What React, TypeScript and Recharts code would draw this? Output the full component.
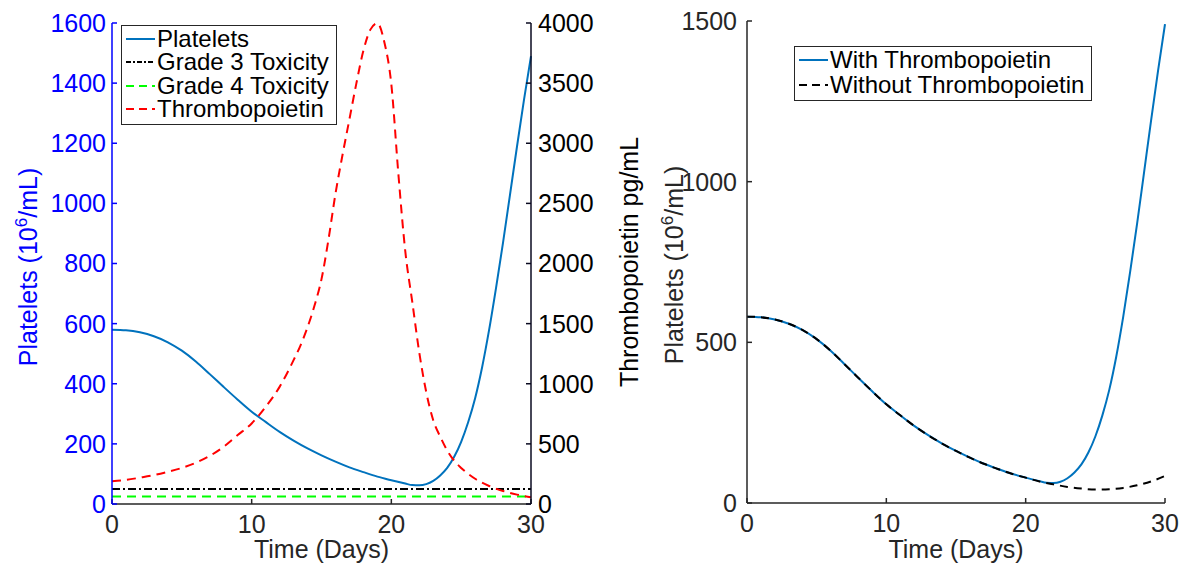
import React from 'react';
import { LineChart, Line, XAxis, YAxis } from 'recharts';

const FONT = '"Liberation Sans", Arial, Helvetica, sans-serif';
const AXIS = '#262626';
const BLUE = '#0072BD';

// tick labels
const dayTicks = [0, 10, 20, 30];
const plateletTicks = [0, 200, 400, 600, 800, 1000, 1200, 1400, 1600];
const tpoTicks = [0, 500, 1000, 1500, 2000, 2500, 3000, 3500, 4000];
const compareTicks = [0, 500, 1000, 1500];

// platelets with thrombopoietin (10^6/mL)
const plateletDays = [0, 1, 2, 3, 4, 5, 6, 7, 8, 9, 10, 11, 12, 13, 14, 15, 16, 17, 18, 19, 20, 21, 21.5, 22, 22.5, 23, 23.5, 24, 24.5, 25, 25.5, 26, 26.5, 27, 27.5, 28, 28.5, 29, 29.5, 30];
const plateletValues = [580, 578, 571, 558, 538, 510, 474, 432, 389, 347, 307, 273, 240, 211, 185, 162, 141, 122, 106, 91, 79, 68, 63, 62, 66, 77, 95, 120, 157, 207, 272, 352, 455, 579, 720, 870, 1030, 1190, 1345, 1490];

// platelets without thrombopoietin
const noTpoDays = [0, 1, 2, 3, 4, 5, 6, 7, 8, 9, 10, 11, 12, 13, 14, 15, 16, 17, 18, 19, 20, 21, 22, 23, 24, 25, 26, 27, 28, 29, 30];
const noTpoValues = [580, 578, 571, 558, 538, 510, 474, 432, 389, 347, 307, 273, 240, 211, 185, 162, 141, 122, 106, 91, 79, 67, 58, 50, 45, 42, 43, 47, 55, 67, 84];

// thrombopoietin (pg/mL)
const tpoDays = [0, 1, 2, 3, 4, 5, 6, 7, 8, 9, 10, 11, 12, 13, 13.5, 14, 14.5, 15, 15.5, 16, 16.5, 17, 17.5, 18, 18.5, 19, 19.5, 20, 20.5, 21, 21.5, 22, 22.5, 23, 23.5, 24, 24.5, 25, 26, 27, 28, 29, 30];
const tpoValues = [190, 200, 219, 240, 268, 300, 343, 400, 476, 573, 670, 808, 974, 1196, 1320, 1470, 1650, 1870, 2200, 2580, 2900, 3200, 3500, 3770, 3945, 3998, 3840, 3490, 2750, 2100, 1680, 1260, 930, 697, 560, 445, 360, 300, 210, 150, 108, 78, 55];

// toxicity thresholds
const toxDays = [0, 30];
const grade3Values = [50, 50];
const grade4Values = [25, 25];

const toPoints = (days: number[], vals: number[]) => days.map((t, i) => ({ t, v: vals[i] }));

const platelets = toPoints(plateletDays, plateletValues);
const noTpo = toPoints(noTpoDays, noTpoValues);
const tpo = toPoints(tpoDays, tpoValues);
const grade3 = toPoints(toxDays, grade3Values);
const grade4 = toPoints(toxDays, grade4Values);

function VTitle({ px, py, color, sup }: { px: number; py: number; color: string; sup?: boolean }) {
  return (
    <text x={px} y={py} transform={`rotate(-90 ${px} ${py})`} textAnchor="middle" fill={color} fontSize={25} fontFamily={FONT}>
      {sup ? (
        <>
          <tspan>Platelets (10</tspan>
          <tspan dy={-10} fontSize={17}>6</tspan>
          <tspan dy={10}>/mL)</tspan>
        </>
      ) : (
        'Thrombopoietin pg/mL'
      )}
    </text>
  );
}

function HTitle({ px, py }: { px: number; py: number }) {
  return (
    <text x={px} y={py} textAnchor="middle" fill={AXIS} fontSize={25} fontFamily={FONT}>
      Time (Days)
    </text>
  );
}

function Sample({ color, dash }: { color: string; dash?: string }) {
  return (
    <svg width={29} height={10} style={{ display: 'block', flex: 'none' }}>
      <line x1={0} y1={5} x2={29} y2={5} stroke={color} strokeWidth={2} strokeDasharray={dash} />
    </svg>
  );
}

function LegendRow({ top, color, dash, label }: { top: number; color: string; dash?: string; label: string }) {
  return (
    <div style={{ position: 'absolute', left: 4, top, height: 24, display: 'flex', alignItems: 'center', gap: 2, whiteSpace: 'nowrap' }}>
      <Sample color={color} dash={dash} />
      <span style={{ lineHeight: '24px' }}>{label}</span>
    </div>
  );
}

const tickStyle = { fill: AXIS, fontSize: 25, fontFamily: FONT };
const lineStyle = { stroke: AXIS, strokeWidth: 1.5 };

export default function App() {
  return (
    <div style={{ position: 'absolute', left: 0, top: 0, width: 1187, height: 569, background: '#fff', fontFamily: FONT, color: '#000' }}>
      {/* left panel: platelets + thrombopoietin */}
      <LineChart width={660} height={569} margin={{ top: 23, right: 20, bottom: 0, left: 0 }} style={{ position: 'absolute', left: 0, top: 0 }}>
        <XAxis xAxisId="b" type="number" dataKey="t" domain={[0, 30]} ticks={dayTicks} interval={0} height={65}
          tick={tickStyle} tickSize={-5} tickMargin={16} axisLine={lineStyle} tickLine={lineStyle}
          label={<HTitle px={321.5} py={558} />} />
        <XAxis xAxisId="top" orientation="top" type="number" dataKey="t" domain={[0, 30]} ticks={dayTicks} interval={0} height={0}
          tick={false} tickSize={-5} axisLine={lineStyle} tickLine={lineStyle} />
        <YAxis yAxisId="p" type="number" domain={[0, 1600]} ticks={plateletTicks} interval={0} width={112}
          tick={{ ...tickStyle, fill: '#0000FF' }} tickSize={-5} tickMargin={11}
          axisLine={{ stroke: '#0000FF', strokeWidth: 1.5 }} tickLine={{ stroke: '#0000FF', strokeWidth: 1.5 }}
          label={<VTitle px={37} py={267} color="#0000FF" sup />} />
        <YAxis yAxisId="tpo" orientation="right" type="number" domain={[0, 4000]} ticks={tpoTicks} interval={0} width={109}
          tick={{ ...tickStyle, fill: '#000' }} tickSize={-5} tickMargin={12}
          axisLine={{ stroke: '#0a0a20', strokeWidth: 1.5 }} tickLine={{ stroke: '#0a0a20', strokeWidth: 1.5 }}
          label={<VTitle px={638} py={262} color="#000" />} />
        <Line xAxisId="b" yAxisId="p" data={platelets} dataKey="v" type="monotone" stroke={BLUE} strokeWidth={2} dot={false} isAnimationActive={false} />
        <Line xAxisId="b" yAxisId="p" data={grade3} dataKey="v" type="linear" stroke="#000" strokeWidth={2} strokeDasharray="8 3 2 3" dot={false} isAnimationActive={false} />
        <Line xAxisId="b" yAxisId="p" data={grade4} dataKey="v" type="linear" stroke="#00FF00" strokeWidth={2} strokeDasharray="9 6" dot={false} isAnimationActive={false} />
        <Line xAxisId="b" yAxisId="tpo" data={tpo} dataKey="v" type="monotone" stroke="#FF0000" strokeWidth={2} strokeDasharray="9 6" dot={false} isAnimationActive={false} />
      </LineChart>

      {/* right panel: with vs without thrombopoietin */}
      <LineChart width={547} height={569} margin={{ top: 21, right: 22, bottom: 0, left: 0 }} style={{ position: 'absolute', left: 640, top: 0 }}>
        <XAxis xAxisId="b" type="number" dataKey="t" domain={[0, 30]} ticks={dayTicks} interval={0} height={66}
          tick={tickStyle} tickSize={-5} tickMargin={16} axisLine={lineStyle} tickLine={lineStyle}
          label={<HTitle px={316} py={558} />} />
        <XAxis xAxisId="top" orientation="top" type="number" dataKey="t" domain={[0, 30]} ticks={dayTicks} interval={0} height={0}
          tick={false} tickSize={-5} axisLine={lineStyle} tickLine={lineStyle} />
        <YAxis yAxisId="l" type="number" domain={[0, 1500]} ticks={compareTicks} interval={0} width={107}
          tick={tickStyle} tickSize={-5} tickMargin={15} axisLine={lineStyle} tickLine={lineStyle}
          label={<VTitle px={43} py={265} color={AXIS} sup />} />
        <YAxis yAxisId="r" orientation="right" type="number" domain={[0, 1500]} ticks={compareTicks} interval={0} width={0}
          tick={false} tickSize={-5} axisLine={lineStyle} tickLine={lineStyle} />
        <Line xAxisId="b" yAxisId="l" data={platelets} dataKey="v" type="monotone" stroke={BLUE} strokeWidth={2} dot={false} isAnimationActive={false} />
        <Line xAxisId="b" yAxisId="l" data={noTpo} dataKey="v" type="monotone" stroke="#000" strokeWidth={2} strokeDasharray="8 6" dot={false} isAnimationActive={false} />
      </LineChart>

      {/* legends */}
      <div style={{ position: 'absolute', left: 121, top: 25, width: 216, height: 100, boxSizing: 'border-box', border: `1.5px solid ${AXIS}`, background: '#fff', fontSize: 24 }}>
        <LegendRow top={1} color={BLUE} label="Platelets" />
        <LegendRow top={24.3} color="#000" dash="5 2 2 2" label="Grade 3 Toxicity" />
        <LegendRow top={47.6} color="#00FF00" dash="8 5" label="Grade 4 Toxicity" />
        <LegendRow top={70.9} color="#FF0000" dash="8 5" label="Thrombopoietin" />
      </div>
      <div style={{ position: 'absolute', left: 794, top: 46, width: 298, height: 55, boxSizing: 'border-box', border: `1.5px solid ${AXIS}`, background: '#fff', fontSize: 24 }}>
        <LegendRow top={0.5} color={BLUE} label="With Thrombopoietin" />
        <LegendRow top={25.5} color="#000" dash="8 5" label="Without Thrombopoietin" />
      </div>
    </div>
  );
}
